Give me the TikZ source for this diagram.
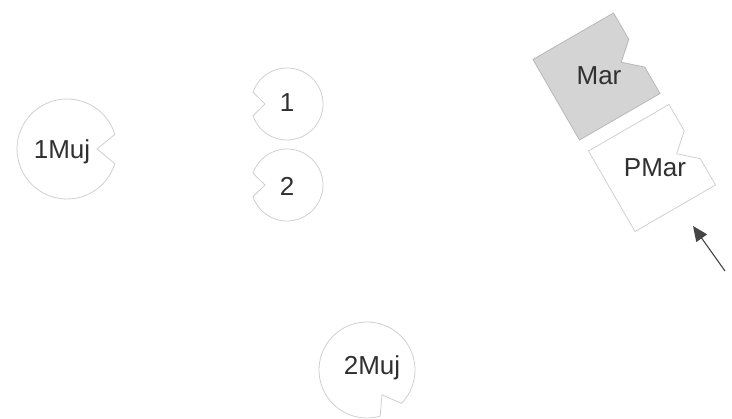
\documentclass[tikz,border=0pt]{standalone}
\usepackage{fontspec}
\setmainfont{Liberation Sans}
\usetikzlibrary{arrows.meta,calc}
\definecolor{pacline}{HTML}{D0D0D0}
\definecolor{boxline}{HTML}{B8B8B8}
\definecolor{boxfill}{HTML}{D4D4D4}
\definecolor{txt}{HTML}{303030}
\definecolor{arrcol}{HTML}{454545}
\begin{document}
\begin{tikzpicture}[x=1pt,y=1pt,
  pac/.style={draw=pacline,line width=0.8pt,fill=white},
  grayshape/.style={draw=boxline,line width=0.8pt,fill=boxfill},
  whiteshape/.style={draw=pacline,line width=0.8pt,fill=white},
  lbl/.style={text=txt,font=\fontsize{26}{30}\selectfont,inner sep=0pt},
  pointer/.style={draw=arrcol,line width=1.1pt,-{Triangle[length=15pt,width=13pt]}}]
\useasboundingbox[fill=white] (0,0) rectangle (732,419);

% pac-man circles
\draw[pac] (67,270) ++(17:50pt) arc[start angle=17,end angle=343,radius=50pt] -- ($(67,270)+(0:30pt)$) -- cycle;
\draw[pac] (287,315) ++(199:36pt) arc[start angle=199,end angle=521,radius=36pt] -- ($(287,315)+(180:22pt)$) -- cycle;
\draw[pac] (287,234) ++(199:36pt) arc[start angle=199,end angle=521,radius=36pt] -- ($(287,234)+(180:22pt)$) -- cycle;
\draw[pac] (367,49) ++(-44:48pt) arc[start angle=-44,end angle=286,radius=48pt] -- ($(367,49)+(-59:29pt)$) -- cycle;

% notched squares
\begin{scope}[shift={(596.5,342.5)},rotate=30]
\draw[grayshape] (-46.5,-46.5) -- (46.5,-46.5) -- (46.5,-16) -- (28.5,0) -- (46.5,16) -- (46.5,46.5) -- (-46.5,46.5) -- cycle;
\end{scope}
\begin{scope}[shift={(652,251)},rotate=30]
\draw[whiteshape] (-46.5,-46.5) -- (46.5,-46.5) -- (46.5,-16) -- (28.5,0) -- (46.5,16) -- (46.5,46.5) -- (-46.5,46.5) -- cycle;
\end{scope}

% labels
\node[lbl] (l1muj) at (62,267) {1Muj};
\node[lbl] (l1) at (287,316) {1};
\node[lbl] (l2) at (287,233) {2};
\node[lbl] (l2muj) at (372,51) {2Muj};
\node[lbl] (lmar) at (599,343) {Mar};
\node[lbl] (lpmar) at (655,251) {PMar};

% arrow
\coordinate (arrtail) at (725,148);
\coordinate (arrtip) at (693,193);
\draw[pointer] (arrtail) -- (arrtip);
\end{tikzpicture}
\end{document}
